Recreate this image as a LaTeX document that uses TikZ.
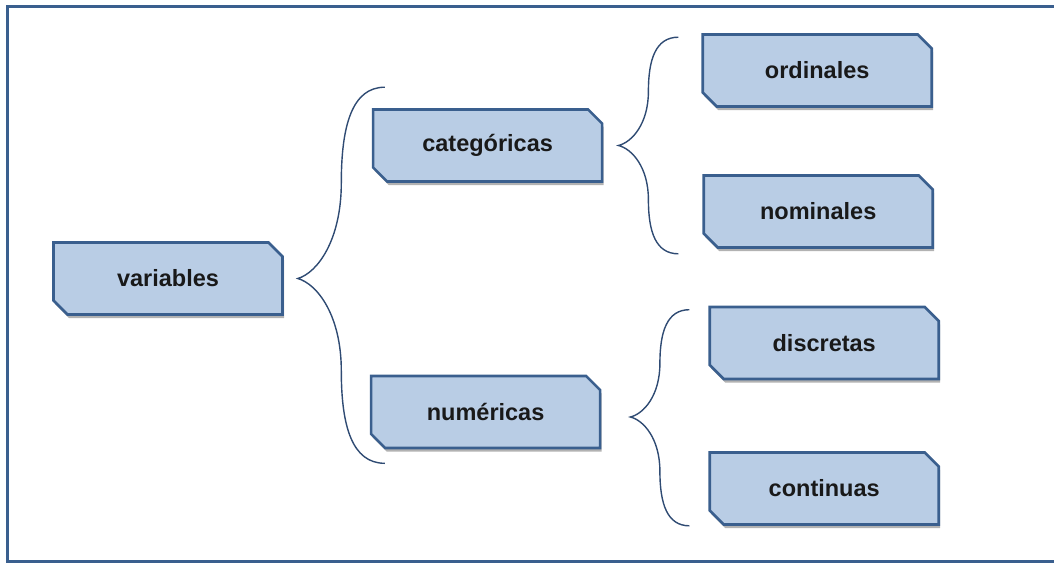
\documentclass[tikz,border=0pt]{standalone}
\usepackage{fontspec}
\setmainfont{Liberation Sans}
\usetikzlibrary{positioning,shapes.misc,shadows,calc}

\definecolor{boxfill}{HTML}{B9CDE5}
\definecolor{boxline}{HTML}{3A5F8E}
\definecolor{braceline}{HTML}{2F4B73}

% curly brace: tip, upper end, lower end
\newcommand{\curlybrace}[3]{%
  \draw[brace] let \p1=(#1), \p2=(#2), \p3=(#3), \p4=($(#1)!.5!(#2)$) in
    (\p2) .. controls ({\x2-0.75*(\x2-\x4)},\y2) and (\x4,{\y2-0.2*(\y2-\y1)}) .. (\x4,{\y2-0.5*(\y2-\y1)})
    .. controls (\x4,{\y1+0.2*(\y2-\y1)}) and ({\x1+0.45*(\x4-\x1)},{\y1+0.03*(\y2-\y1)}) .. (\p1)
    .. controls ({\x1+0.45*(\x4-\x1)},{\y1-0.03*(\y1-\y3)}) and (\x4,{\y1-0.2*(\y1-\y3)}) .. (\x4,{\y1-0.5*(\y1-\y3)})
    .. controls (\x4,{\y3+0.2*(\y1-\y3)}) and ({\x3-0.75*(\x3-\x4)},\y3) .. (\p3);
}

\begin{document}
\begin{tikzpicture}[x=1pt, y=-1pt,
    catbox/.style={chamfered rectangle, chamfered rectangle corners={north east,south west},
      chamfered rectangle sep=7pt, draw=boxline, line width=2.6pt, fill=boxfill,
      minimum width=229pt, minimum height=72pt, inner sep=0pt,
      font=\fontsize{23.5}{27}\selectfont\bfseries, text=black!90,
      drop shadow={shadow xshift=1.5pt, shadow yshift=-3.5pt, fill=black, opacity=0.3}},
    brace/.style={draw=braceline, line width=1.4pt},
    frame/.style={draw=boxline, line width=3pt}]

  \useasboundingbox (0,0) rectangle (1054,563);
  \draw[frame] (7,6.5) rectangle (1064,561.5);

  \node[catbox] (var) at (168,278.5) {variables};
  \node[catbox] (cat) [right=88pt of var, yshift=133pt] {categóricas};
  \node[catbox] (num) [right=86pt of var, yshift=-133.5pt] {numéricas};
  \node[catbox] (ord) [right=98pt of cat, yshift=75pt] {ordinales};
  \node[catbox] (nom) [right=99pt of cat, yshift=-66pt] {nominales};
  \node[catbox] (dis) [right=107pt of num, yshift=69pt] {discretas};
  \node[catbox] (con) [right=107pt of num, yshift=-76.5pt] {continuas};

  \coordinate (b1tip) at ([xshift=14pt]var.east);
  \coordinate (b1top) at ($(cat.west |- cat.north)+(13pt,21pt)$);
  \coordinate (b1bot) at ($(num.west |- num.south)+(15pt,-14pt)$);
  \coordinate (b2tip) at ([xshift=15pt]cat.east);
  \coordinate (b2top) at ($(ord.west |- ord.north)+(-23pt,-4pt)$);
  \coordinate (b2bot) at ($(nom.west |- nom.south)+(-24pt,-5pt)$);
  \coordinate (b3tip) at ([xshift=29pt, yshift=-5pt]num.east);
  \coordinate (b3top) at ($(dis.west |- dis.north)+(-19pt,-4pt)$);
  \coordinate (b3bot) at ($(con.west |- con.south)+(-19pt,0pt)$);

  \curlybrace{b1tip}{b1top}{b1bot}
  \curlybrace{b2tip}{b2top}{b2bot}
  \curlybrace{b3tip}{b3top}{b3bot}

\end{tikzpicture}
\end{document}
